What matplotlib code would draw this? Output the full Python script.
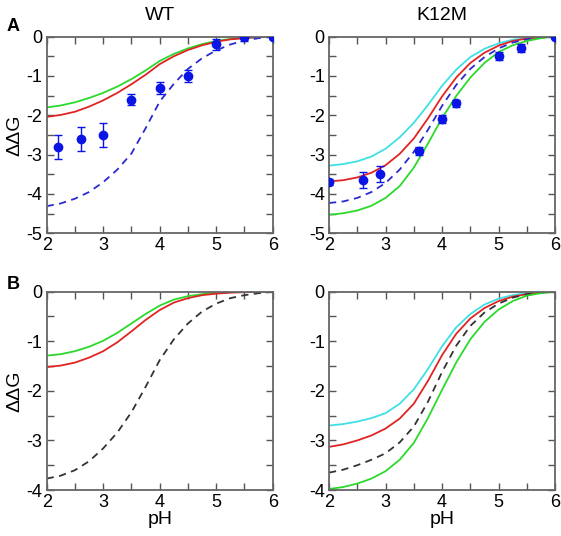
import matplotlib
matplotlib.use("Agg")
import matplotlib.pyplot as plt
from matplotlib.ticker import MultipleLocator

plt.rcParams['font.family'] = ['Liberation Sans', 'DejaVu Sans']
plt.rcParams['axes.unicode_minus'] = False

# === Data ===
ph = [2.0, 2.25, 2.5, 2.75, 3.0, 3.25, 3.5, 3.75, 4.0, 4.25, 4.5, 4.75, 5.0, 5.25, 5.5, 5.75, 6.0]

# Panel A, WT
a_wt_green = [-1.80, -1.75, -1.67, -1.56, -1.43, -1.27, -1.08, -0.86, -0.62, -0.44, -0.30, -0.19, -0.11, -0.06, -0.03, -0.01, 0.0]
a_wt_red = [-2.04, -1.99, -1.91, -1.78, -1.62, -1.43, -1.21, -0.97, -0.70, -0.50, -0.34, -0.22, -0.13, -0.07, -0.04, -0.01, 0.0]
a_wt_blue = [-4.31, -4.24, -4.12, -3.95, -3.70, -3.38, -2.97, -2.33, -1.65, -1.20, -0.82, -0.55, -0.35, -0.20, -0.10, -0.04, 0.0]
a_wt_ph = [2.2, 2.6, 3.0, 3.5, 4.0, 4.5, 5.0, 5.5, 6.0]
a_wt_exp = [-2.8, -2.6, -2.5, -1.6, -1.3, -1.0, -0.2, 0.0, 0.0]
a_wt_err = [0.3, 0.3, 0.3, 0.15, 0.15, 0.15, 0.15, 0.1, 0.0]

# Panel A, K12M
a_k_cyan = [-3.28, -3.24, -3.17, -3.05, -2.85, -2.56, -2.19, -1.74, -1.25, -0.84, -0.52, -0.31, -0.17, -0.08, -0.04, -0.01, 0.0]
a_k_red = [-3.68, -3.65, -3.58, -3.46, -3.27, -2.98, -2.59, -2.08, -1.52, -1.04, -0.67, -0.41, -0.23, -0.11, -0.05, -0.02, 0.0]
a_k_blue = [-4.23, -4.19, -4.10, -3.95, -3.72, -3.38, -2.93, -2.37, -1.76, -1.23, -0.82, -0.52, -0.30, -0.15, -0.07, -0.02, 0.0]
a_k_green = [-4.53, -4.49, -4.42, -4.30, -4.10, -3.80, -3.33, -2.72, -2.07, -1.51, -1.04, -0.67, -0.39, -0.22, -0.11, -0.04, 0.0]
a_k_ph = [2.0, 2.6, 2.9, 3.6, 4.0, 4.25, 5.0, 5.4, 6.0]
a_k_exp = [-3.7, -3.65, -3.5, -2.9, -2.1, -1.7, -0.5, -0.3, 0.0]
a_k_err = [0.08, 0.2, 0.2, 0.1, 0.1, 0.1, 0.1, 0.1, 0.0]

# Panel B, WT
b_wt_green = [-1.29, -1.26, -1.20, -1.11, -0.99, -0.83, -0.64, -0.45, -0.28, -0.16, -0.09, -0.05, -0.02, -0.01, 0.0, 0.0, 0.0]
b_wt_red = [-1.52, -1.49, -1.43, -1.33, -1.20, -1.02, -0.80, -0.57, -0.37, -0.22, -0.13, -0.07, -0.04, -0.02, -0.01, 0.0, 0.0]
b_wt_black = [-3.77, -3.71, -3.60, -3.42, -3.16, -2.84, -2.43, -1.92, -1.38, -0.96, -0.64, -0.40, -0.24, -0.13, -0.07, -0.03, 0.0]

# Panel B, K12M
b_k_cyan = [-2.70, -2.67, -2.62, -2.55, -2.45, -2.26, -1.97, -1.56, -1.10, -0.72, -0.45, -0.26, -0.14, -0.07, -0.03, -0.01, 0.0]
b_k_red = [-3.13, -3.08, -3.00, -2.90, -2.76, -2.56, -2.26, -1.80, -1.28, -0.85, -0.54, -0.33, -0.19, -0.10, -0.05, -0.02, 0.0]
b_k_black = [-3.65, -3.59, -3.50, -3.39, -3.26, -3.04, -2.72, -2.22, -1.62, -1.09, -0.69, -0.42, -0.24, -0.12, -0.05, -0.02, 0.0]
b_k_green = [-3.98, -3.94, -3.87, -3.77, -3.62, -3.39, -3.05, -2.55, -1.98, -1.43, -0.96, -0.61, -0.36, -0.19, -0.08, -0.03, 0.0]

GREEN = "#2bd92b"
RED = "#e02424"
CYAN = "#3ee0e6"
BLUE = "#2a2ad0"
BLACK = "#333333"
DOT = "#0a14e6"


def style_axes(ax, ymin):
    ax.set_xlim(2, 6)
    ax.set_ylim(ymin, 0)
    ax.xaxis.set_major_locator(MultipleLocator(1))
    ax.xaxis.set_minor_locator(MultipleLocator(0.5))
    ax.yaxis.set_major_locator(MultipleLocator(1))
    ax.yaxis.set_minor_locator(MultipleLocator(0.5))
    ax.tick_params(which="both", direction="in", top=True, right=True,
                   length=5, width=1.0, color="#555555", labelsize=13, pad=3)
    for s in ax.spines.values():
        s.set_color("#666666")
        s.set_linewidth(1.3)


fig = plt.figure(figsize=(5.61, 5.36), dpi=100)
w, h = 0.403, 0.367
ax1 = fig.add_axes([0.0832, 0.5647, w, h])
ax2 = fig.add_axes([0.5865, 0.5647, w, h])
ax3 = fig.add_axes([0.0832, 0.0858, w, 0.370])
ax4 = fig.add_axes([0.5865, 0.0858, w, 0.370])

# Panel A WT
ax1.plot(ph, a_wt_green, color=GREEN, lw=1.3)
ax1.plot(ph, a_wt_red, color=RED, lw=1.3)
ax1.plot(ph, a_wt_blue, color=BLUE, lw=1.3, dashes=(4, 3))
ax1.errorbar(a_wt_ph, a_wt_exp, yerr=a_wt_err, fmt="o", color=DOT, ms=6,
             elinewidth=1.0, capsize=3, zorder=5)
style_axes(ax1, -5)

# Panel A K12M
ax2.plot(ph, a_k_cyan, color=CYAN, lw=1.3)
ax2.plot(ph, a_k_red, color=RED, lw=1.3)
ax2.plot(ph, a_k_blue, color=BLUE, lw=1.3, dashes=(4, 3))
ax2.plot(ph, a_k_green, color=GREEN, lw=1.3)
ax2.errorbar(a_k_ph, a_k_exp, yerr=a_k_err, fmt="o", color=DOT, ms=6,
             elinewidth=1.0, capsize=3, zorder=5)
style_axes(ax2, -5)

# Panel B WT
ax3.plot(ph, b_wt_green, color=GREEN, lw=1.3)
ax3.plot(ph, b_wt_red, color=RED, lw=1.3)
ax3.plot(ph, b_wt_black, color=BLACK, lw=1.3, dashes=(4, 3))
style_axes(ax3, -4)

# Panel B K12M
ax4.plot(ph, b_k_cyan, color=CYAN, lw=1.3)
ax4.plot(ph, b_k_red, color=RED, lw=1.3)
ax4.plot(ph, b_k_black, color=BLACK, lw=1.3, dashes=(4, 3))
ax4.plot(ph, b_k_green, color=GREEN, lw=1.3)
style_axes(ax4, -4)

ax1.set_title("WT", fontsize=14, pad=12)
ax2.set_title("K12M", fontsize=14, pad=12)
ax1.set_ylabel("ΔΔG", fontsize=14, labelpad=2)
ax3.set_ylabel("ΔΔG", fontsize=14, labelpad=2)
ax3.set_xlabel("pH", fontsize=14, labelpad=0)
ax4.set_xlabel("pH", fontsize=14, labelpad=0)

fig.text(0.012, 0.943, "A", fontsize=13, fontweight="bold")
fig.text(0.012, 0.461, "B", fontsize=13, fontweight="bold")

fig.savefig("out.png", dpi=100)
